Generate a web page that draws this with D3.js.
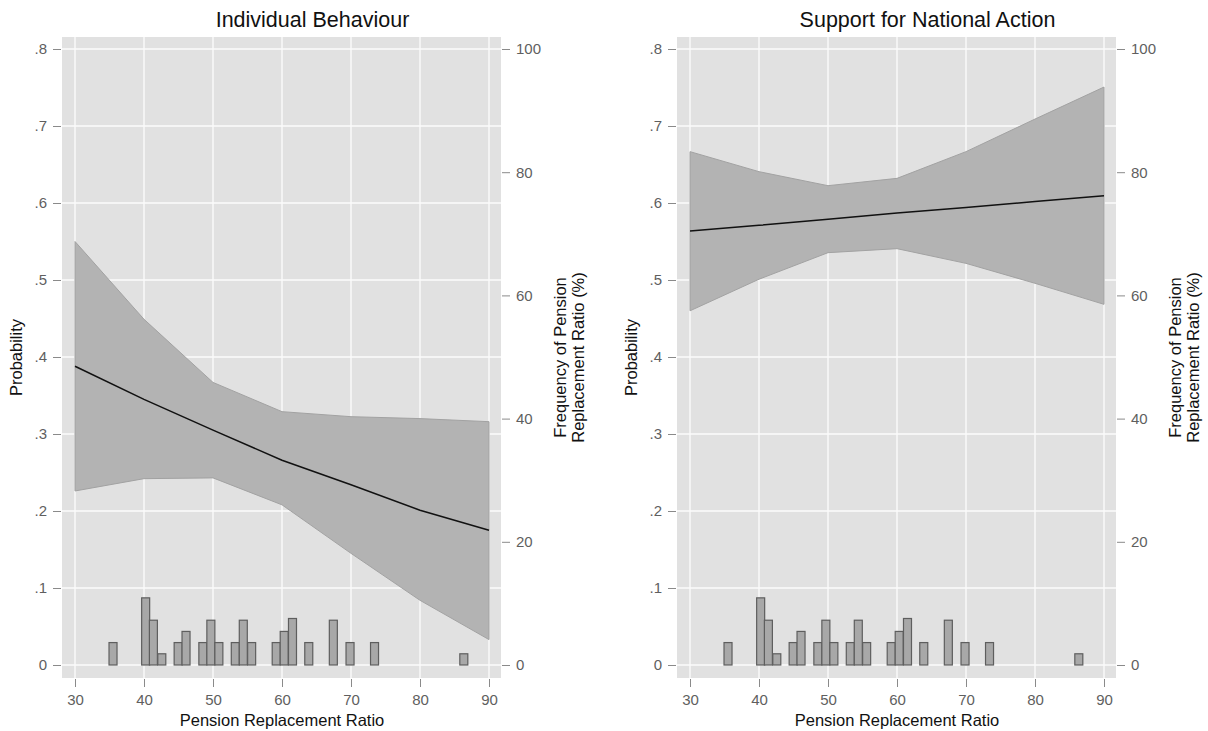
<!DOCTYPE html>
<html>
<head>
<meta charset="utf-8">
<script src="https://cdn.jsdelivr.net/npm/d3@7"></script>
<style>
  html, body { margin: 0; padding: 0; background: #fff; }
  svg { display: block; font-family: "Liberation Sans", Arial, sans-serif; }
</style>
</head>
<body>
<svg id="chart" width="1208" height="731"></svg>
<script>
// Pension replacement ratio at which predictions are evaluated
const ratio = [30, 40, 50, 60, 70, 80, 90];

// Individual behaviour: predicted probability and 95% bounds
const indivFit = [0.388, 0.345, 0.305, 0.266, 0.234, 0.201, 0.175];
const indivLo  = [0.226, 0.242, 0.243, 0.208, 0.145, 0.084, 0.033];
const indivHi  = [0.550, 0.449, 0.367, 0.329, 0.3225, 0.320, 0.316];

// Support for national action: predicted probability and 95% bounds
const natFit = [0.5636, 0.571, 0.579, 0.587, 0.594, 0.602, 0.6095];
const natLo  = [0.460, 0.501, 0.5355, 0.5407, 0.5216, 0.4957, 0.4684];
const natHi  = [0.6667, 0.6407, 0.6225, 0.632, 0.6667, 0.709, 0.7506];

// Distribution of the pension replacement ratio (bin centres, % of cases)
const histCenter = [35.51, 40.24, 41.36, 42.58, 44.95, 46.09, 48.53, 49.69, 50.85,
                    53.23, 54.39, 55.60, 59.16, 60.32, 61.52, 63.88, 67.44, 69.86,
                    73.41, 86.35];
const histPct = [3.64, 10.9, 7.27, 1.82, 3.64, 5.45, 3.64, 7.27, 3.64,
                 3.64, 7.27, 3.64, 3.64, 5.45, 7.55, 3.64, 7.27, 3.64,
                 3.64, 1.82];
const histBinWidth = 1.16;

// Axis ticks
const xTicks = [30, 40, 50, 60, 70, 80, 90];
const probTicks = [0, 0.1, 0.2, 0.3, 0.4, 0.5, 0.6, 0.7, 0.8];
const probTickLabels = ["0", ".1", ".2", ".3", ".4", ".5", ".6", ".7", ".8"];
const freqTicks = [0, 20, 40, 60, 80, 100];

const panelTitles = ["Individual Behaviour", "Support for National Action"];

const panels = [
  { title: panelTitles[0], fit: indivFit, lo: indivLo, hi: indivHi },
  { title: panelTitles[1], fit: natFit, lo: natLo, hi: natHi }
];

const svg = d3.select("#chart");

const plotW = 439, plotTop = 37, plotBottom = 678;
const panelLeft = [62, 677];

const x = d3.scaleLinear().domain([30, 90]).range([13, 427]);
const yP = d3.scaleLinear().domain([0, 0.8]).range([665 - plotTop, 49 - plotTop]);
const yF = d3.scaleLinear().domain([0, 100]).range([665 - plotTop, 49 - plotTop]);
const plotH = plotBottom - plotTop;

const tickColor = "#8a8a8a";
const labelColor = "#5f5f5f";
const fontFam = "Liberation Sans, Arial, sans-serif";

panels.forEach((p, i) => {
  const g = svg.append("g").attr("transform", `translate(${panelLeft[i]},${plotTop})`);

  // plot region background
  g.append("rect").attr("x", 0).attr("y", 0).attr("width", plotW).attr("height", plotH)
    .attr("fill", "#e1e1e1");

  // grid
  g.selectAll(".vg").data(xTicks).join("line")
    .attr("x1", d => x(d)).attr("x2", d => x(d)).attr("y1", 0).attr("y2", plotH)
    .attr("stroke", "#fbfbfb").attr("stroke-width", 1.4);
  g.selectAll(".hg").data(probTicks).join("line")
    .attr("x1", 0).attr("x2", plotW).attr("y1", d => yP(d)).attr("y2", d => yP(d))
    .attr("stroke", "#fbfbfb").attr("stroke-width", 1.4);

  // histogram of the replacement ratio (right axis)
  const bars = histCenter.map((c, k) => ({ c, v: histPct[k] }));
  g.selectAll(".bar").data(bars).join("rect")
    .attr("x", d => x(d.c - histBinWidth / 2))
    .attr("width", d => x(d.c + histBinWidth / 2) - x(d.c - histBinWidth / 2))
    .attr("y", d => yF(d.v))
    .attr("height", d => yF(0) - yF(d.v))
    .attr("fill", "#a8a8a8").attr("stroke", "#5e5e5e").attr("stroke-width", 1.2);

  // confidence band
  const pts = ratio.map((r, k) => ({ r, fit: p.fit[k], lo: p.lo[k], hi: p.hi[k] }));
  const area = d3.area().x(d => x(d.r)).y0(d => yP(d.lo)).y1(d => yP(d.hi));
  g.append("path").datum(pts).attr("d", area)
    .attr("fill", "#b3b3b3").attr("stroke", "#a2a2a2").attr("stroke-width", 1);

  // predicted probability
  const line = d3.line().x(d => x(d.r)).y(d => yP(d.fit));
  g.append("path").datum(pts).attr("d", line)
    .attr("fill", "none").attr("stroke", "#111").attr("stroke-width", 1.5);

  // left axis (probability)
  const la = g.append("g").attr("transform", "translate(-1,0)")
    .call(d3.axisLeft(yP).tickValues(probTicks).tickFormat((d, k) => probTickLabels[k])
      .tickSize(8).tickPadding(6));
  la.select(".domain").remove();
  la.selectAll("line").attr("stroke", tickColor);
  la.selectAll("text").attr("fill", labelColor).attr("font-size", 15).attr("font-family", fontFam);

  // right axis (frequency)
  const ra = g.append("g").attr("transform", `translate(${plotW + 1},0)`)
    .call(d3.axisRight(yF).tickValues(freqTicks).tickSize(8).tickPadding(6));
  ra.select(".domain").remove();
  ra.selectAll("line").attr("stroke", tickColor);
  ra.selectAll("text").attr("fill", labelColor).attr("font-size", 15).attr("font-family", fontFam);

  // bottom axis
  const ba = g.append("g").attr("transform", `translate(0,${plotH + 1})`)
    .call(d3.axisBottom(x).tickValues(xTicks).tickFormat(d3.format("d"))
      .tickSize(8).tickPadding(7));
  ba.select(".domain").remove();
  ba.selectAll("line").attr("stroke", tickColor);
  ba.selectAll("text").attr("fill", labelColor).attr("font-size", 15).attr("font-family", fontFam);

  // panel title
  g.append("text").attr("x", plotW / 2 + 31).attr("y", 27 - plotTop)
    .attr("text-anchor", "middle").attr("font-size", 21.5).attr("fill", "#111")
    .text(p.title);

  // axis titles
  g.append("text").attr("x", x(60)).attr("y", 726 - plotTop)
    .attr("text-anchor", "middle").attr("font-size", 16.5).attr("fill", "#111")
    .text("Pension Replacement Ratio");

  g.append("text")
    .attr("transform", `translate(-40,${plotH / 2}) rotate(-90)`)
    .attr("text-anchor", "middle").attr("font-size", 16.5).attr("fill", "#111")
    .text("Probability");

  const rt = g.append("text")
    .attr("transform", `translate(${plotW + 65},${plotH / 2}) rotate(-90)`)
    .attr("text-anchor", "middle").attr("font-size", 16.5).attr("fill", "#111");
  rt.append("tspan").attr("x", 0).attr("dy", 0).text("Frequency of Pension");
  rt.append("tspan").attr("x", 0).attr("dy", 17.5).text("Replacement Ratio (%)");
});
</script>
</body>
</html>
